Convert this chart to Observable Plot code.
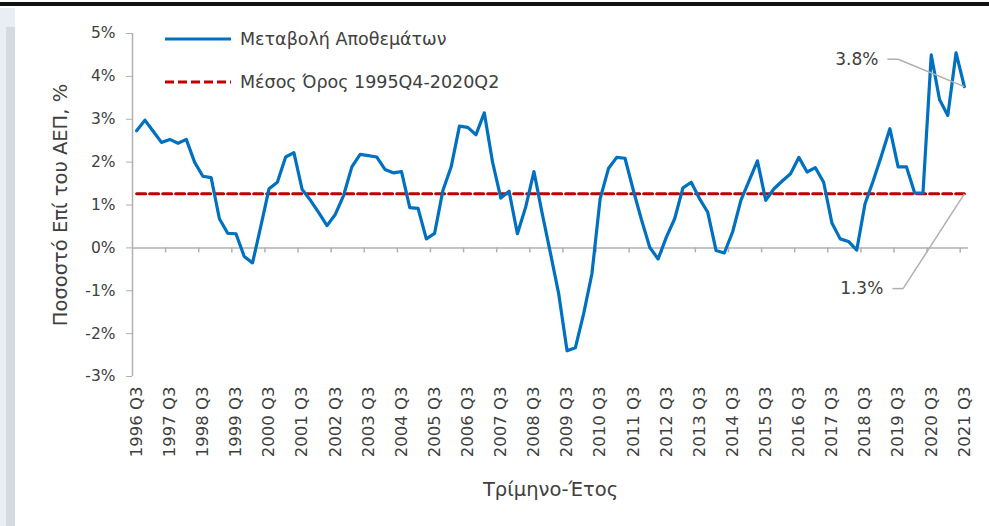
<!DOCTYPE html>
<html><head><meta charset="utf-8">
<script src="https://cdn.jsdelivr.net/npm/d3@7"></script>
<script src="https://cdn.jsdelivr.net/npm/@observablehq/plot@0.6"></script>
<style>
body{margin:0;background:#fff;}
#wrap{position:relative;width:989px;height:526px;overflow:hidden;font-family:"DejaVu Sans",sans-serif;color:#404040;background:#fff;}
#topbar{position:absolute;left:0;top:2px;width:989px;height:4px;background:#111;}
#lp1{position:absolute;left:0;top:8px;width:15px;height:19px;background:#e9eef6;}
#lp2{position:absolute;left:0;top:27px;width:6px;height:499px;background:#e9eef6;}
#lp3{position:absolute;left:6px;top:27px;width:9px;height:499px;background:#d4dae2;}
#chart{position:absolute;left:0;top:0;}
.leg{position:absolute;left:165px;height:20px;display:flex;align-items:center;font-size:17.5px;color:#404040;white-space:nowrap;}
.leg svg{margin-right:9px;}
</style></head><body>
<div id="wrap">
  <div id="topbar"></div><div id="lp1"></div><div id="lp2"></div><div id="lp3"></div>
  <div id="chart"></div>
  <div class="leg" style="top:29px"><svg width="66" height="6"><line x1="0" x2="66" y1="3" y2="3" stroke="#0070c0" stroke-width="3"/></svg><span id="leg1"></span></div>
  <div class="leg" style="top:72px"><svg width="66" height="6"><line x1="0" x2="66" y1="3" y2="3" stroke="#c00000" stroke-width="3" stroke-dasharray="9,4"/></svg><span id="leg2"></span></div>
</div>
<script>
const seriesName = "Μεταβολή Αποθεμάτων";
const averageName = "Μέσος Όρος 1995Q4-2020Q2";
const yTitle = "Ποσοστό Επί του ΑΕΠ, %";
const xTitle = "Τρίμηνο-Έτος";

// quarters 1996 Q3 .. 2021 Q3
const quarters = [];
for (let y = 1996, q = 3; ; q++) {
  if (q > 4) { q = 1; y++; }
  if (y > 2021 || (y === 2021 && q > 3)) break;
  quarters.push(`${y} Q${q}`);
}

const values = [
  2.73, 2.98, 2.72, 2.46, 2.53, 2.44, 2.53, 2.00, 1.67, 1.64,
  0.68, 0.34, 0.33, -0.20, -0.35, 0.50, 1.38, 1.53, 2.12, 2.22,
  1.36, 1.11, 0.82, 0.52, 0.78, 1.22, 1.89, 2.18, 2.15, 2.12,
  1.83, 1.75, 1.78, 0.94, 0.92, 0.21, 0.34, 1.34, 1.89, 2.84,
  2.81, 2.64, 3.15, 2.00, 1.16, 1.32, 0.33, 0.95, 1.78, 0.80,
  -0.13, -1.08, -2.40, -2.33, -1.54, -0.61, 1.15, 1.85, 2.11, 2.09,
  1.35, 0.65, 0.01, -0.26, 0.25, 0.68, 1.40, 1.53, 1.15, 0.83,
  -0.06, -0.12, 0.37, 1.11, 1.57, 2.03, 1.11, 1.38, 1.56, 1.73,
  2.11, 1.77, 1.87, 1.53, 0.58, 0.21, 0.15, -0.05, 1.03, 1.57,
  2.16, 2.78, 1.89, 1.89, 1.28, 1.28, 4.50, 3.46, 3.09, 4.55,
  3.76
];
const averageValue = 1.26;
const yTicks = [-3, -2, -1, 0, 1, 2, 3, 4, 5];

// annotation leader positions (x in quarter index, y in %)
const annStartX = [90.7, 91.3];
const annElbowX = [92.0, 92.6];
const annY = [4.40, -0.95];

document.getElementById("leg1").textContent = seriesName;
document.getElementById("leg2").textContent = averageName;

const n = quarters.length;
const last = n - 1;
const data = quarters.map((q, i) => ({i, q, v: values[i]}));
const labelIdx = quarters.map((q, i) => i).filter(i => i % 4 === 0);
const boundaries = labelIdx.map(i => i - 0.5).slice(1);
const xDomain = [-0.5, n - 0.5];
const annEndY = [values[last], averageValue];
const ann = annY.map((y, k) => ({
  sx: annStartX[k], ex: annElbowX[k], y, tx: last, ty: annEndY[k],
  label: `${annEndY[k].toFixed(1)}%`
}));
const gray = "#b0b0b0";

const chart = Plot.plot({
  width: 989, height: 526,
  marginLeft: 132, marginRight: 21, marginTop: 33, marginBottom: 150,
  style: {background: "transparent", fontFamily: "DejaVu Sans", color: "#404040", overflow: "visible"},
  x: {domain: xDomain, axis: null},
  y: {domain: [-3, 5], axis: null},
  marks: [
    Plot.ruleY([0], {stroke: gray, strokeWidth: 1.5}),
    Plot.ruleX([xDomain[0]], {stroke: gray, strokeWidth: 1.5}),
    Plot.ruleX(boundaries, {y1: 0, y2: 0, insetBottom: -5, stroke: gray, strokeWidth: 1.5}),
    Plot.axisY(yTicks, {tickSize: 6, tickPadding: 11, tickFormat: d => d + "%", fontSize: 15.5, stroke: gray, fill: "#404040", label: null}),
    Plot.axisX(labelIdx, {tickFormat: i => quarters[i], tickRotate: -90, tickSize: 0, tickPadding: 10, fontSize: 16.5, fill: "#404040", label: null}),
    Plot.text([yTitle], {text: d => d, frameAnchor: "left", textAnchor: "middle", rotate: -90, dx: -72, fontSize: 19.5, fill: "#404040"}),
    Plot.text([xTitle], {text: d => d, frameAnchor: "bottom", dy: 119, fontSize: 19.5, fill: "#404040"}),
    Plot.line(data, {x: "i", y: () => averageValue, stroke: "#c00000", strokeWidth: 3, strokeDasharray: "9,4"}),
    Plot.line(data, {x: "i", y: "v", stroke: "#0070c0", strokeWidth: 3.2, strokeLinejoin: "round"}),
    Plot.link(ann, {x1: "sx", y1: "y", x2: "ex", y2: "y", stroke: gray, strokeWidth: 1.5}),
    Plot.link(ann, {x1: "ex", y1: "y", x2: "tx", y2: "ty", stroke: gray, strokeWidth: 1.5}),
    Plot.text(ann, {x: "sx", y: "y", text: "label", textAnchor: "end", dx: -9, fontSize: 17, fill: "#404040"})
  ]
});
document.getElementById("chart").appendChild(chart);
</script>
</body></html>
